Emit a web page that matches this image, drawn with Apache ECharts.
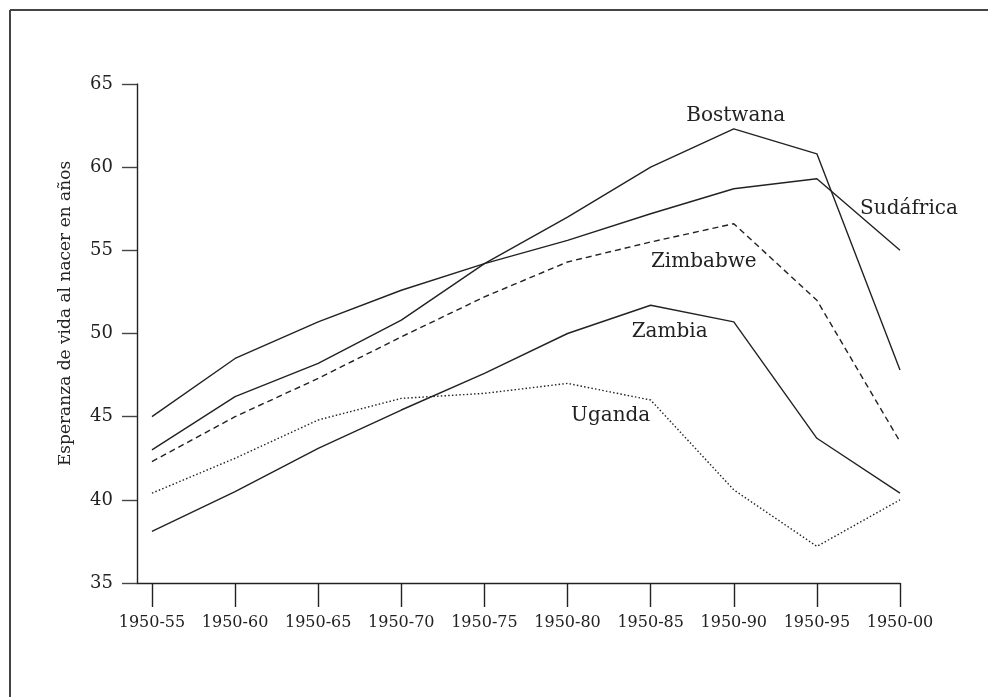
<!DOCTYPE html>
<html>
<head>
<meta charset="utf-8">
<script src="https://cdn.jsdelivr.net/npm/echarts@6/dist/echarts.min.js"></script>
<style>
html,body{margin:0;padding:0;background:#fff;}
#chart{width:988px;height:697px;}
</style>
</head>
<body>
<div id="chart"></div>
<script>
// periodos (eje x)
const periods=["1950-55","1950-60","1950-65","1950-70","1950-75","1950-80","1950-85","1950-90","1950-95","1950-00"];

// esperanza de vida
const bostwana=[43.0,46.2,48.2,50.8,54.2,57.0,60.0,62.3,60.8,47.8];
const sudafrica=[45.0,48.5,50.7,52.6,54.2,55.6,57.2,58.7,59.3,55.0];
const zimbabwe=[42.3,45.0,47.3,49.8,52.2,54.3,55.5,56.6,52.0,43.5];
const zambia=[38.1,40.5,43.1,45.4,47.6,50.0,51.7,50.7,43.7,40.4];
const uganda=[40.4,42.5,44.8,46.1,46.4,47.0,46.0,40.6,37.2,40.0];

const yTicks=[35,40,45,50,55,60,65];

const FONT="DejaVu Serif";
const INK="#222";

const chart=echarts.init(document.getElementById("chart"));

function country(name,values,lineType,labelAt,offset){
    return {
        name:name,
        type:"line",
        data:values.map((v,i)=>[i,v]),
        showSymbol:false,
        symbol:"none",
        lineStyle:{color:INK,width:1.4,type:lineType},
        markPoint:{
            symbol:"circle",
            symbolSize:1,
            itemStyle:{color:"transparent"},
            data:[{coord:[labelAt,values[labelAt]],value:name}],
            label:{
                show:true,
                position:"inside",
                offset:offset,
                formatter:name,
                fontFamily:FONT,
                fontSize:20,
                color:INK
            }
        }
    };
}

chart.setOption({
    animation:false,
    grid:{left:137,right:88,top:84,bottom:114},
    xAxis:{
        type:"value",
        min:-0.18,
        max:9,
        splitLine:{show:false},
        axisLine:{onZero:false,lineStyle:{color:INK,width:1.4}},
        axisTick:{
            customValues:periods.map((p,i)=>i),
            length:24,
            lineStyle:{color:INK,width:1.4}
        },
        axisLabel:{
            customValues:periods.map((p,i)=>i),
            formatter:v=>periods[Math.round(v)],
            margin:32,
            fontFamily:FONT,
            fontSize:16,
            color:INK
        }
    },
    yAxis:{
        type:"value",
        min:35,
        max:65,
        interval:5,
        name:"Esperanza de vida al nacer en años",
        nameLocation:"middle",
        nameRotate:90,
        nameGap:63,
        nameTextStyle:{fontFamily:FONT,fontSize:17,color:INK,padding:[0,0,0,40]},
        splitLine:{show:false},
        axisLine:{show:true,onZero:false,lineStyle:{color:INK,width:1.4}},
        axisTick:{show:true,length:15,lineStyle:{color:"#444",width:1.4}},
        axisLabel:{
            customValues:yTicks,
            margin:24,
            fontFamily:FONT,
            fontSize:18,
            color:INK
        }
    },
    graphic:[
        {type:"line",shape:{x1:10,y1:10,x2:988,y2:10},style:{stroke:"#444",lineWidth:2}},
        {type:"line",shape:{x1:10,y1:10,x2:10,y2:697},style:{stroke:"#444",lineWidth:2}}
    ],
    series:[
        country("Bostwana",bostwana,"solid",7,[2,-13]),
        country("Sudáfrica",sudafrica,"solid",9,[9,-42]),
        country("Zimbabwe",zimbabwe,[6,4],7,[-30,38]),
        country("Zambia",zambia,"solid",6,[19,27]),
        country("Uganda",uganda,[1.5,2.2],6,[-40,16])
    ]
});

window.addEventListener("resize",()=>chart.resize());
</script>
</body>
</html>
